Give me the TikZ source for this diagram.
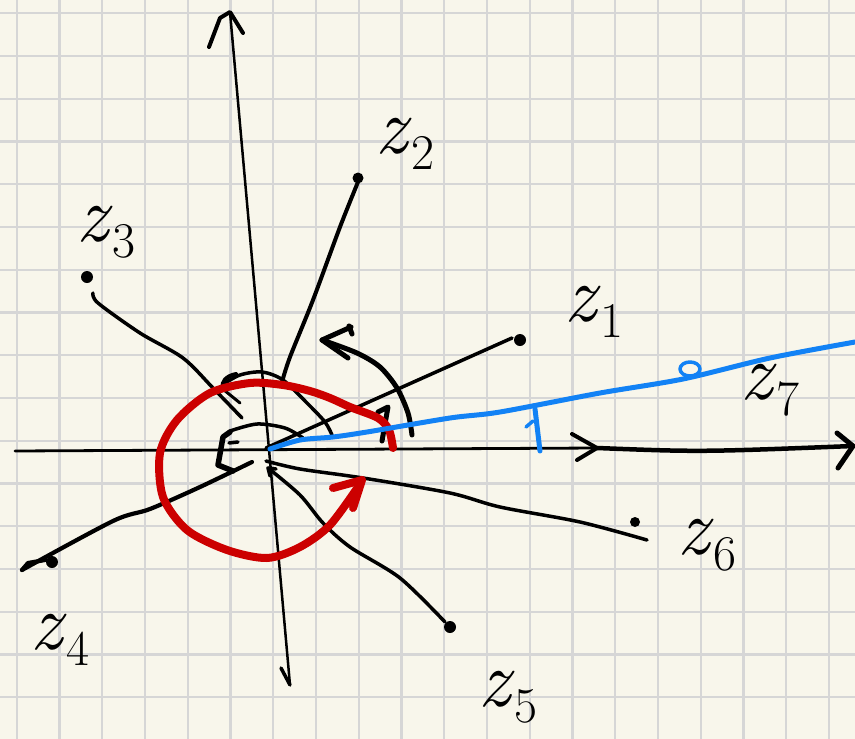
\documentclass[tikz,border=0pt]{standalone}
\usepackage{fontspec}
\usepackage{tikz}
\definecolor{paper}{RGB}{248,246,235}
\definecolor{gridc}{RGB}{214,214,214}
\definecolor{inkred}{RGB}{204,0,0}
\definecolor{inkblue}{RGB}{18,130,245}
\newcommand\zlab[1]{{\itshape z}\kern4pt\raisebox{-16pt}{\fontsize{50}{50}\selectfont #1}}
\begin{document}
\begin{tikzpicture}[x=1pt,y=-1pt,line cap=round,line join=round,
  gridline/.style={draw=gridc,line width=2.2pt},
  axis/.style={draw=black,line width=2.8pt},
  spoke/.style={draw=black,line width=3.5pt},
  heavy/.style={draw=black,line width=5pt},
  redpen/.style={draw=inkred,line width=8pt},
  bluepen/.style={draw=inkblue,line width=5pt},
  dot/.style={circle,fill=black,inner sep=0pt,minimum size=12pt},
  lab/.style={inner sep=0pt,font=\fontsize{80}{80}\selectfont}]
\useasboundingbox (0,0) rectangle (855,739);
\fill[paper] (0,0) rectangle (855,739);
\foreach \i in {0,...,19} \draw[gridline] ({16.7+42.75*\i},0) -- ++(0,739);
\foreach \j in {0,...,17} \draw[gridline] (0,{13.3+42.75*\j}) -- ++(855,0);

% axes
\coordinate (xl) at (15,451);
\coordinate (xm) at (597,448);
\coordinate (xr) at (853,446);
\coordinate (yt) at (230,12);
\coordinate (yb) at (290,685);
\draw[axis] (xl) -- (xm);
\draw[black,line width=4.5pt] (xm) .. controls (700,452) .. (xr);
\draw[black,line width=4pt] (572,434) -- (xm) -- (577,460);
\draw[black,line width=5pt] (837,433) -- (xr) -- (838,468);
\draw[black,line width=2.5pt] (yb) -- (yt);
\draw[black,line width=4pt] (209,47) -- (220,18) -- (yt) -- (243,33);
\draw[black,line width=3.5pt] (281,668) -- (yb);

% points
\node[dot] (d1) at (520,340) {};
\node[dot,minimum size=11pt] (d2) at (358,178) {};
\node[dot] (d3) at (87,277) {};
\node[dot] (d4) at (52,562) {};
\node[dot] (d5) at (450,627) {};
\node[dot,minimum size=10pt] (d6) at (635,522) {};

% spokes
\coordinate (s1) at (266,448);
\draw[spoke] (s1) -- ([shift={(-8pt,2pt)}]d1.center);
\draw[spoke,line width=4pt] plot[smooth] coordinates {(358,182) (340,227) (313,300) (290,357) (282,382)};
\draw[spoke] plot[smooth] coordinates {(93,293) (98,303) (140,333) (183,358) (213,388) (242,418)};
\draw[spoke,line width=4.2pt] plot[smooth] coordinates {(252,462) (200,487) (150,509) (113,521) (22,570)};
\draw[spoke,line width=4.2pt] (22,570) -- (28,563) -- (45,560);
\draw[spoke] plot[smooth] coordinates {(268,468) (300,495) (323,523) (350,547) (400,578) (445,622)};
\draw[spoke] (270,476) -- (268,468) -- (276,469);
\draw[spoke] plot[smooth] coordinates {(266,461) (300,469) (363,478) (450,493) (500,507) (580,522) (647,540)};

% angle marks
\draw[heavy] plot[smooth] coordinates {(412,435) (408,413) (397,388) (380,367) (357,353) (322,340)};
\draw[heavy] (351,327) -- (322,340) -- (348,358);
\draw[heavy] (349,326) -- (352,334);
\draw[heavy] (378,412) -- (388,407) -- (382,441);
\draw[black,line width=3.5pt] plot[smooth] coordinates {(222,385) (240,375) (262,372) (283,380) (307,403) (325,422) (332,435)};
\draw[black,line width=4pt] (236,374) .. controls (226,376) and (221,382) .. (223,388);
\draw[black,line width=3pt] (224,390) -- (240,403);
\draw[black,line width=3.5pt] plot[smooth] coordinates {(230,431) (257,424) (285,428) (303,438)};
\draw[black,line width=5.5pt] (230,432) -- (223,437) -- (218,465) -- (233,471);
\draw[black,line width=3.5pt] (229,443) -- (238,442);

% red rotation
\draw[redpen] plot[smooth] coordinates {(393,448) (389,430) (378,418) (350,407) (330,398) (310,391) (283,385) (250,383) (210,393) (177,420) (160,453) (163,497) (187,530) (227,550) (267,558) (300,547) (330,525) (360,484)};
\draw[redpen] (333,488) -- (362,480) -- (353,508);

% blue ray
\coordinate (b0) at (270,449);
\coordinate (b1) at (855,342);
\draw[bluepen] plot[smooth] coordinates {(b0) (300,440) (333,437) (367,432) (450,418) (500,412) (600,393) (683,379) (770,358) (b1)};
\draw[inkblue,line width=3.5pt] (690,369) ellipse [x radius=10pt,y radius=7pt];
\draw[bluepen] (535,409) -- (540,451);
\draw[inkblue,line width=3.5pt] (526,427) -- (533,421);

% labels
\node[lab] (l1) at (594,312) {\zlab{1}};
\node[lab] (l2) at (405,144) {\zlab{2}};
\node[lab] (l3) at (106,232) {\zlab{3}};
\node[lab] (l4) at (60,640) {\zlab{4}};
\node[lab] (l5) at (508,697) {\zlab{5}};
\node[lab] (l6) at (707,545) {\zlab{6}};
\node[lab] (l7) at (770,390) {\zlab{7}};
\end{tikzpicture}
\end{document}
